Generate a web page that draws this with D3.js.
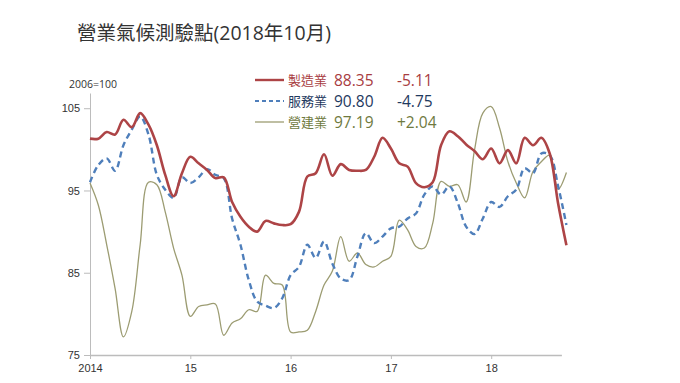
<!DOCTYPE html>
<html><head><meta charset="utf-8">
<script src="https://cdn.jsdelivr.net/npm/d3@7"></script>
<style>
body{margin:0;background:#fff;}
svg{display:block;font-family:"Open Sans","Noto Sans CJK TC",sans-serif;}
</style></head>
<body>
<svg id="c" width="680" height="383"></svg>
<script>
const title = "營業氣候測驗點(2018年10月)";
const baseLabel = "2006=100";
const startYear = 2014;
const xTickLabels = ["2014","15","16","17","18"];
const yTicks = [75,85,95,105];
const seriesNames = ["製造業","服務業","營建業"];
const latestValues = ["88.35","90.80","97.19"];
const latestChanges = ["-5.11","-4.75","+2.04"];

// Monthly values, Jan 2014 - Oct 2018
const manufacturing = [101.3,101.3,102.1,101.8,103.6,102.7,104.4,103.0,100.5,96.9,94.3,97.1,
  99.1,98.3,97.5,96.5,96.6,93.6,91.8,90.6,90.0,91.3,91.0,90.8,
  90.9,92.4,96.7,97.1,99.4,96.8,98.2,97.5,97.4,97.5,99.1,101.4,
  100.1,98.3,97.9,95.9,95.4,96.0,100.5,102.2,101.6,100.6,99.8,98.8,
  100.1,98.3,99.9,98.3,101.4,100.5,101.4,99.5,93.46,88.35];
const services = [96.0,98.1,98.9,97.4,100.5,102.4,104.0,101.8,96.9,95.1,94.1,96.6,
  95.9,96.6,97.6,96.9,96.5,91.6,88.4,84.1,81.5,81.0,80.7,81.9,
  84.7,85.7,88.4,86.8,88.8,86.1,84.3,84.1,87.0,89.8,88.6,89.4,
  90.4,90.6,91.6,92.2,94.5,95.5,94.5,95.5,93.5,90.6,89.7,91.6,
  93.6,93.0,94.3,95.1,97.7,97.1,99.5,99.3,95.55,90.80];
const construction = [95.9,93.2,88.4,83.1,77.2,80.3,88.4,96.0,95.7,92.4,88.0,84.7,
  79.7,80.9,81.1,81.2,77.4,78.9,79.4,80.5,80.3,84.7,83.7,83.5,
  77.8,77.8,78.0,80.3,83.5,85.2,89.4,86.4,87.4,86.0,85.7,86.4,
  87.0,91.4,90.2,88.2,88.0,91.0,96.1,95.5,95.7,93.6,99.9,104.4,
  105.2,102.6,98.5,95.9,94.1,97.3,98.5,99.3,95.15,97.19];

const svg = d3.select("#c");
const x = d3.scaleLinear().domain([0, 4*12 + 8.4]).range([90, 90 + 100.3*(4+8.4/12)]);
const y = d3.scaleLinear().domain([75, 106.85]).range([355, 93]);

svg.append("text").attr("x",77).attr("y",40).attr("font-size",19.5).attr("fill","#333")
  .text(title);
svg.append("text").attr("x",69).attr("y",88).attr("font-size",10.5).attr("fill","#333")
  .text(baseLabel);

// y axis
const yAxis = d3.axisLeft(y).tickValues(yTicks).tickSize(6).tickPadding(4).tickSizeOuter(0);
const gy = svg.append("g").attr("transform","translate(90,0)").call(yAxis);
gy.select(".domain").attr("stroke","#bcbcbc");
gy.selectAll(".tick line").attr("stroke","#bcbcbc");
gy.selectAll("text").attr("font-size",11).attr("fill","#333").attr("font-family","Liberation Sans, Arial, sans-serif");

// x axis
const xAxis = d3.axisBottom(x).tickValues(xTickLabels.map((d,i)=>i*12))
  .tickFormat((d,i)=>xTickLabels[i]).tickSize(4).tickPadding(5).tickSizeOuter(0);
const gx = svg.append("g").attr("transform","translate(0,355)").call(xAxis);
gx.select(".domain").attr("stroke","#bcbcbc").attr("stroke-width",1.5);
gx.selectAll(".tick line").attr("stroke","#bcbcbc");
gx.selectAll("text").attr("font-size",11).attr("fill","#333").attr("font-family","Liberation Sans, Arial, sans-serif");

const line = d3.line().x((d,i)=>x(i)).y(d=>y(d)).curve(d3.curveCatmullRom.alpha(0.5));

const styles = [
  {data:construction, color:"#9c9c72", width:1.3, dash:null, text:"#6f7a3e"},
  {data:services, color:"#4f7fbb", width:2.4, dash:"6,4", text:"#1f3a60"},
  {data:manufacturing, color:"#ad4446", width:2.6, dash:null, text:"#a83c3f"}
];
styles.forEach(s=>{
  svg.append("path").datum(s.data).attr("d",line).attr("fill","none")
    .attr("stroke",s.color).attr("stroke-width",s.width)
    .attr("stroke-dasharray",s.dash).attr("stroke-linejoin","round");
});

// legend
const legStyles = [styles[2], styles[1], styles[0]];
seriesNames.forEach((n,i)=>{
  const cy = 80 + i*21;
  const s = legStyles[i];
  svg.append("line").attr("x1",255).attr("x2",284).attr("y1",cy).attr("y2",cy)
    .attr("stroke",s.color).attr("stroke-width",i==0?2.4:(i==1?2.2:1.3)).attr("stroke-dasharray",i==1?"4,3":null);
  const g = svg.append("g").attr("fill",s.text);
  g.append("text").attr("x",288).attr("y",cy+5).attr("font-size",13)
    .attr("font-family","Noto Sans CJK TC, sans-serif").text(n);
  g.append("text").attr("x",334).attr("y",cy+5.5).attr("font-size",15.5).text(latestValues[i]);
  g.append("text").attr("x",397).attr("y",cy+5.5).attr("font-size",15.5).text(latestChanges[i]);
});
</script>
</body></html>
